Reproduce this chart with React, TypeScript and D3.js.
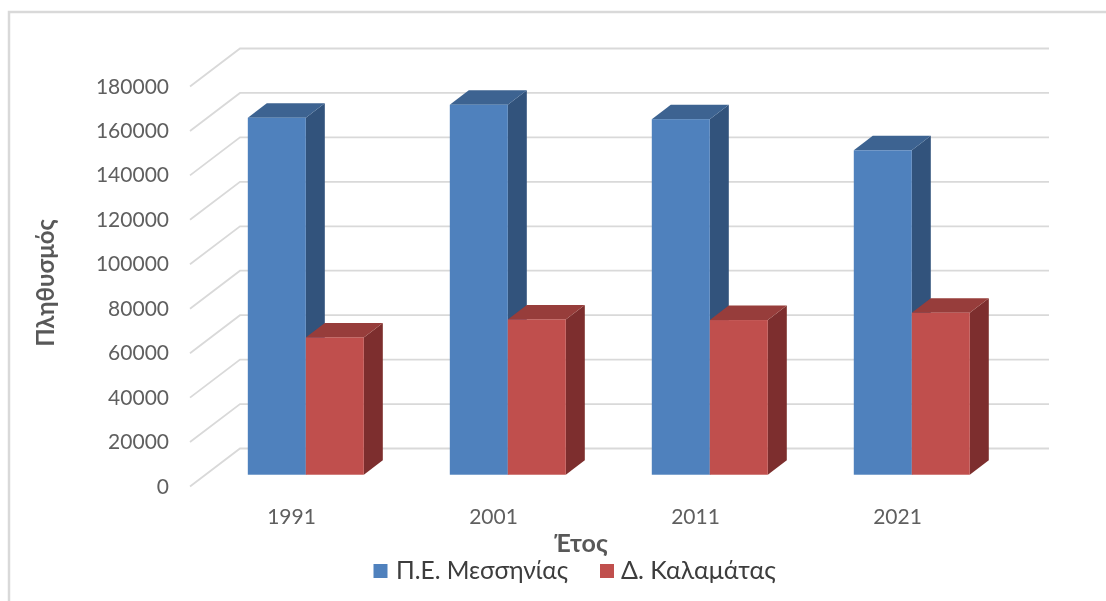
import React from 'react';
import * as d3 from 'd3';

const years = ['1991', '2001', '2011', '2021'];
const messinia = [160650, 166500, 160000, 146000];
const kalamata = [61800, 69900, 69600, 72900];
const yTicks = [0, 20000, 40000, 60000, 80000, 100000, 120000, 140000, 160000, 180000];
const seriesNames = ['Π.Ε. Μεσσηνίας', 'Δ. Καλαμάτας'];

const FONT = 'Lato, "Open Sans", sans-serif';
const WIDTH = 1106;
const HEIGHT = 601;
const DEPTH_X = 50;
const DEPTH_Y = 38;
const BAR_FRONT = 0.31;
const BAR_BACK = 0.69;
const BAR_SHIFT = -0.7;

// front edge of the floor, the back wall is the same thing shifted by depth
const x = d3.scaleBand().domain(years).range([190, 998]).paddingInner(0.4257).paddingOuter(0.2129);
const y = d3.scaleLinear().domain([0, 180000]).range([486.5, 86.5]);
const series = d3.scaleBand().domain(seriesNames).range([0, x.bandwidth()]);

const palette = [
  { front: '#4f81bd', side: '#31527c', top: '#3c6391' },
  { front: '#c0504d', side: '#7d2f2d', top: '#973d3a' },
];

const poly = (pts: [number, number][]) => {
  const p = d3.path();
  pts.forEach(([a, b], i) => (i ? p.lineTo(a, b) : p.moveTo(a, b)));
  p.closePath();
  return p.toString();
};

const Bar = ({ left, width, value, colors }: any) => {
  const dx = DEPTH_X * BAR_FRONT + BAR_SHIFT;
  const dy = DEPTH_Y * BAR_FRONT;
  const ddx = DEPTH_X * (BAR_BACK - BAR_FRONT);
  const ddy = DEPTH_Y * (BAR_BACK - BAR_FRONT);
  const x0 = left + dx;
  const x1 = x0 + width;
  const yTop = y(value) - dy;
  const yBase = y(0) - dy;
  return (
    <g>
      <path d={poly([[x1, yTop], [x1 + ddx, yTop - ddy], [x1 + ddx, yBase - ddy], [x1, yBase]])} fill={colors.side} />
      <path d={poly([[x0, yTop], [x0 + ddx, yTop - ddy], [x1 + ddx, yTop - ddy], [x1, yTop]])} fill={colors.top} />
      <rect x={x0} y={yTop} width={width} height={yBase - yTop} fill={colors.front} />
    </g>
  );
};

const App = () => {
  const values = [messinia, kalamata];
  const [x0, x1] = x.range();
  return (
    <svg width={WIDTH} height={HEIGHT} style={{ position: 'absolute', left: 0, top: 0, background: '#fff' }} fontFamily={FONT}>
      <defs>
        <filter id="soft" x="-2%" y="-2%" width="104%" height="104%">
          <feGaussianBlur stdDeviation="0.45" />
        </filter>
      </defs>
      <g filter="url(#soft)">
        <path d={`M9,${HEIGHT}V12H${WIDTH}`} fill="none" stroke="#d9d9d9" strokeWidth={2.5} />

        {yTicks.map((t) => (
          <g key={t}>
            <path
              d={`M${x0},${y(t)}L${x0 + DEPTH_X},${y(t) - DEPTH_Y}H${x1 + DEPTH_X + 1}`}
              fill="none"
              stroke="#d9d9d9"
              strokeWidth={1.8}
            />
            <text x={169} y={y(t) + 7} textAnchor="end" fontSize={21} fill="#5f5f5f">
              {t}
            </text>
          </g>
        ))}

        {years.map((yr, i) => (
          <g key={yr}>
            {seriesNames.map((name, s) => (
              <Bar
                key={name}
                left={x(yr)! + series(name)!}
                width={series.bandwidth()}
                value={values[s][i]}
                colors={palette[s]}
              />
            ))}
            <text x={x(yr)! + x.bandwidth() / 2 + 0.5} y={524} textAnchor="middle" fontSize={21} fill="#5f5f5f">
              {yr}
            </text>
          </g>
        ))}

        <text transform="translate(54,283) rotate(-90)" textAnchor="middle" fontSize={24} fontWeight={700} fill="#595959">
          Πληθυσμός
        </text>
        <text x={581} y={552} textAnchor="middle" fontSize={25} fontWeight={700} fill="#595959">
          Έτος
        </text>

        <rect x={373.5} y={564} width={14} height={14} fill={palette[0].front} />
        <text x={396} y={579} fontSize={24.5} fill="#3c3c3c">{seriesNames[0]}</text>
        <rect x={600} y={564} width={14} height={14} fill={palette[1].front} />
        <text x={621} y={579} fontSize={25} fill="#3c3c3c">{seriesNames[1]}</text>
      </g>
    </svg>
  );
};

export default App;
